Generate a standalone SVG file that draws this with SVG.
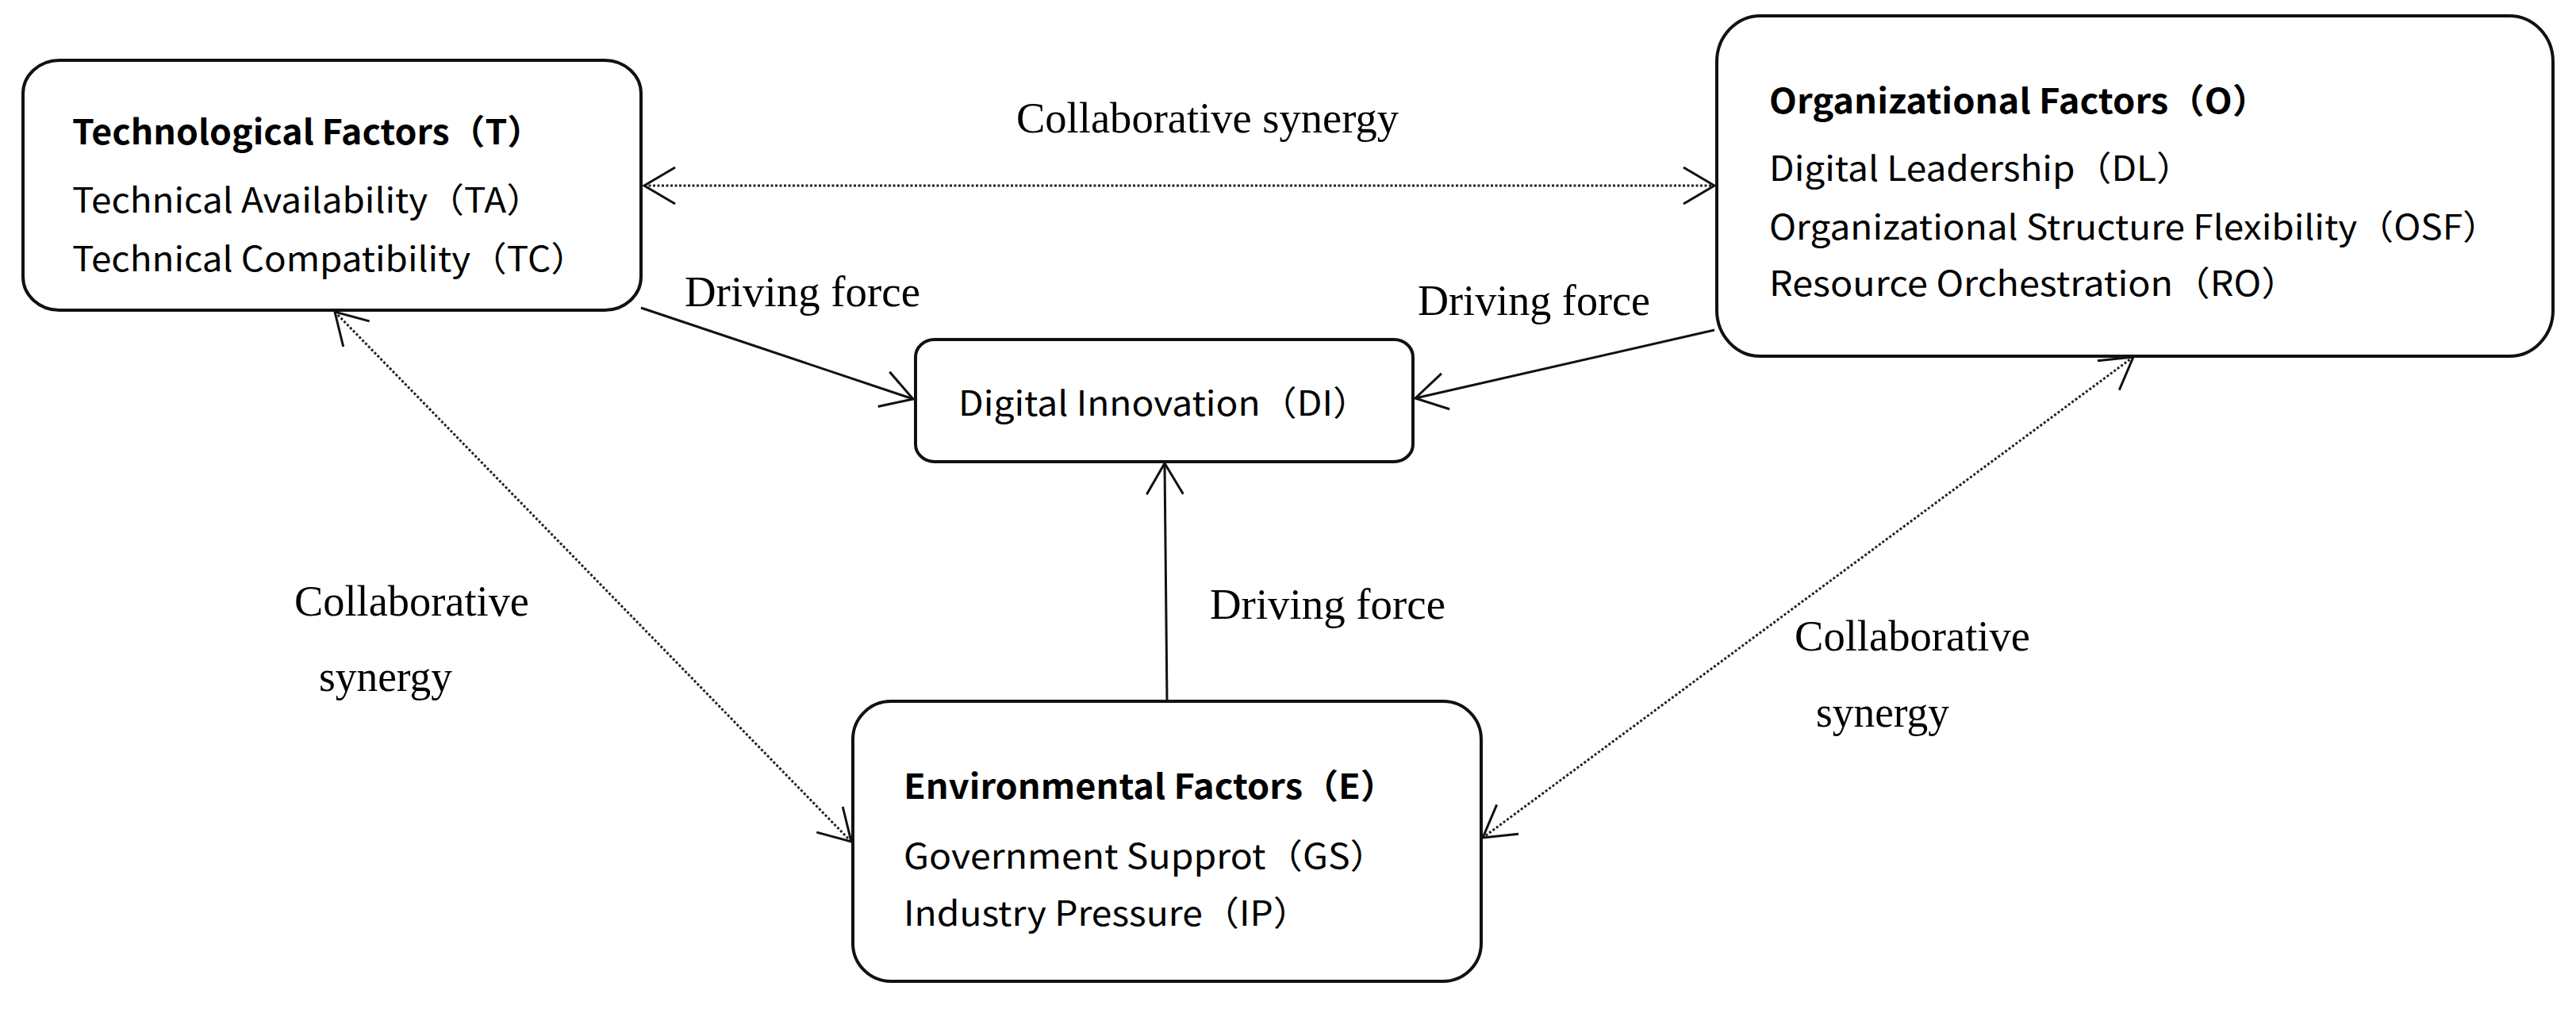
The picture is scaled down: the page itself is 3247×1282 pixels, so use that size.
<svg xmlns="http://www.w3.org/2000/svg" width="3247" height="1282" viewBox="0 0 3247 1282">
<style>
.box{fill:#fff;stroke:#111;stroke-width:4}
.t{font-family:"Noto Sans CJK SC","Liberation Sans",sans-serif;font-size:43px;fill:#000}
.b{font-weight:bold}
.lbl{font-family:"Liberation Serif","Times New Roman",serif;font-size:54px;fill:#000}
.solid{stroke:#111;stroke-width:3;fill:none}
.dot{stroke:#222;stroke-width:3;fill:none;stroke-dasharray:3 2.5}
</style>
<defs>
<marker id="arr" markerUnits="userSpaceOnUse" viewBox="-46 -28 52 56" markerWidth="52" markerHeight="56" refX="0" refY="0" orient="auto-start-reverse" overflow="visible">
<path d="M-39,-23 L0,0 L-39,23" fill="none" stroke="#111" stroke-width="3"/>
</marker>
</defs>
<rect width="3247" height="1282" fill="#fff"/>
<g id="connectors">
<line class="dot" x1="812" y1="234" x2="2161" y2="234" marker-start="url(#arr)" marker-end="url(#arr)"/>
<line class="dot" x1="422" y1="393" x2="1073" y2="1061" marker-start="url(#arr)" marker-end="url(#arr)"/>
<line class="dot" x1="2689" y1="450" x2="1869" y2="1056" marker-start="url(#arr)" marker-end="url(#arr)"/>
<line class="solid" x1="808" y1="388" x2="1151" y2="503" marker-end="url(#arr)"/>
<line class="solid" x1="2161" y1="416" x2="1784" y2="502" marker-end="url(#arr)"/>
<line class="solid" x1="1471" y1="884" x2="1468" y2="584" marker-end="url(#arr)"/>
<text class="lbl" x="1281" y="167" textLength="482" lengthAdjust="spacingAndGlyphs">Collaborative synergy</text>
<text class="lbl" x="863" y="386" textLength="297" lengthAdjust="spacingAndGlyphs">Driving force</text>
<text class="lbl" x="1787" y="397" textLength="293" lengthAdjust="spacingAndGlyphs">Driving force</text>
<text class="lbl" x="1525" y="780" textLength="297" lengthAdjust="spacingAndGlyphs">Driving force</text>
<text class="lbl" x="371" y="776" textLength="296" lengthAdjust="spacingAndGlyphs">Collaborative</text>
<text class="lbl" x="402" y="871" textLength="168" lengthAdjust="spacingAndGlyphs">synergy</text>
<text class="lbl" x="2262" y="820" textLength="297" lengthAdjust="spacingAndGlyphs">Collaborative</text>
<text class="lbl" x="2289" y="916" textLength="168" lengthAdjust="spacingAndGlyphs">synergy</text>
</g>
<g id="node-T">
<rect class="box" x="29" y="76" width="779" height="315" rx="46" ry="42"/>
<text class="t b" x="91" y="182" textLength="593" lengthAdjust="spacingAndGlyphs">Technological Factors（T）</text>
<text class="t" x="91" y="268" textLength="593" lengthAdjust="spacingAndGlyphs">Technical Availability（TA）</text>
<text class="t" x="91" y="342" textLength="649" lengthAdjust="spacingAndGlyphs">Technical Compatibility（TC）</text>
</g>
<g id="node-O">
<rect class="box" x="2164" y="20" width="1054" height="429" rx="55" ry="58"/>
<text class="t b" x="2230" y="143" textLength="629" lengthAdjust="spacingAndGlyphs">Organizational Factors（O）</text>
<text class="t" x="2230" y="228" textLength="534" lengthAdjust="spacingAndGlyphs">Digital Leadership（DL）</text>
<text class="t" x="2230" y="302" textLength="920" lengthAdjust="spacingAndGlyphs">Organizational Structure Flexibility（OSF）</text>
<text class="t" x="2230" y="373" textLength="667" lengthAdjust="spacingAndGlyphs">Resource Orchestration（RO）</text>
</g>
<g id="node-DI">
<rect class="box" x="1154" y="428" width="627" height="154" rx="24" ry="22"/>
<text class="t" x="1208" y="524" textLength="518" lengthAdjust="spacingAndGlyphs">Digital Innovation（DI）</text>
</g>
<g id="node-E">
<rect class="box" x="1075" y="884" width="792" height="353" rx="48" ry="48"/>
<text class="t b" x="1139" y="1007" textLength="621" lengthAdjust="spacingAndGlyphs">Environmental Factors（E）</text>
<text class="t" x="1139" y="1095" textLength="609" lengthAdjust="spacingAndGlyphs">Government Supprot（GS）</text>
<text class="t" x="1139" y="1167" textLength="512" lengthAdjust="spacingAndGlyphs">Industry Pressure（IP）</text>
</g>
</svg>
